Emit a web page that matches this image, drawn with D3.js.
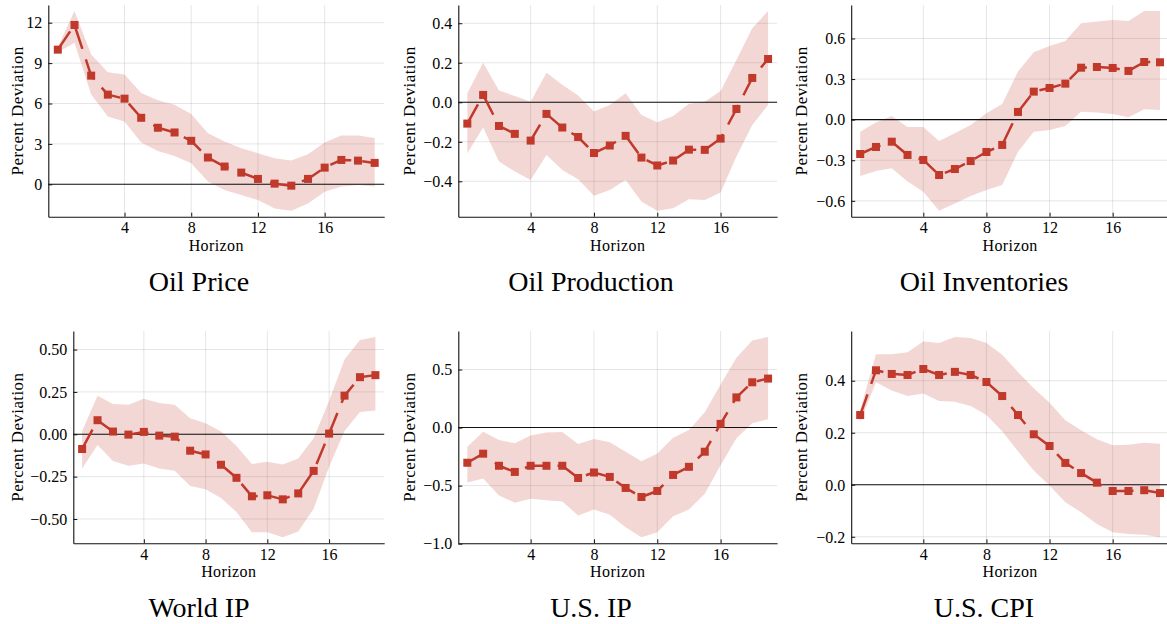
<!DOCTYPE html>
<html>
<head>
<meta charset="utf-8">
<script src="https://cdn.jsdelivr.net/npm/d3@7"></script>
<style>
  body { margin: 0; background: #fff; }
  svg { display: block; }
  text { font-family: "Liberation Serif", "Times New Roman", serif; fill: #000; }
</style>
</head>
<body>
<svg id="chart" width="1167" height="624"></svg>
<script>
// Impulse horizons (quarters after the shock)
const horizon = [0, 1, 2, 3, 4, 5, 6, 7, 8, 9, 10, 11, 12, 13, 14, 15, 16, 17, 18, 19];
const xTicks = [4, 8, 12, 16];

// Point estimates and confidence bands (percent deviation)
const oilPrice   = [10.0, 11.83, 8.07, 6.66, 6.36, 4.94, 4.20, 3.85, 3.23, 1.99, 1.32, 0.87, 0.40, 0.05, -0.10, 0.40, 1.24, 1.81, 1.76, 1.59];
const oilPriceHi = [10.2, 12.87, 9.64, 8.32, 8.15, 6.78, 6.24, 5.91, 5.22, 3.80, 3.18, 2.68, 2.31, 1.94, 1.76, 2.24, 3.10, 3.63, 3.63, 3.43];
const oilPriceLo = [9.8, 10.51, 6.66, 5.04, 4.67, 3.10, 2.48, 2.11, 1.57, 0.20, -0.42, -0.80, -1.17, -1.79, -1.96, -1.42, -0.55, -0.17, -0.05, -0.17];

const oilProd   = [-0.108, 0.037, -0.120, -0.160, -0.194, -0.059, -0.128, -0.176, -0.257, -0.219, -0.170, -0.280, -0.320, -0.295, -0.240, -0.241, -0.184, -0.034, 0.123, 0.219];
const oilProdHi = [0.046, 0.200, 0.059, 0.032, 0.003, 0.150, 0.088, 0.034, -0.047, -0.014, 0.046, -0.064, -0.101, -0.069, -0.008, 0.003, 0.057, 0.214, 0.375, 0.462];
const oilProdLo = [-0.258, -0.128, -0.300, -0.351, -0.393, -0.267, -0.343, -0.390, -0.473, -0.444, -0.393, -0.503, -0.549, -0.537, -0.491, -0.495, -0.457, -0.275, -0.115, -0.014];

const oilInv   = [-0.254, -0.202, -0.163, -0.261, -0.298, -0.409, -0.365, -0.306, -0.239, -0.187, 0.057, 0.207, 0.234, 0.266, 0.384, 0.389, 0.382, 0.360, 0.426, 0.424];
const oilInvHi = [-0.089, -0.022, 0.027, -0.054, -0.054, -0.158, -0.101, -0.039, 0.047, 0.116, 0.355, 0.498, 0.545, 0.582, 0.712, 0.725, 0.737, 0.729, 0.803, 0.803];
const oilInvLo = [-0.416, -0.379, -0.360, -0.458, -0.532, -0.673, -0.619, -0.564, -0.520, -0.483, -0.237, -0.089, -0.076, -0.047, 0.059, 0.052, 0.042, 0.017, 0.076, 0.071];

const worldIP   = [-0.087, 0.083, 0.016, -0.002, 0.014, -0.008, -0.014, -0.097, -0.119, -0.180, -0.257, -0.366, -0.360, -0.384, -0.349, -0.216, 0.004, 0.228, 0.337, 0.349];
const worldIPHi = [0.020, 0.228, 0.178, 0.174, 0.210, 0.184, 0.174, 0.095, 0.065, 0.016, -0.069, -0.176, -0.162, -0.178, -0.143, -0.024, 0.198, 0.442, 0.556, 0.574];
const worldIPLo = [-0.202, -0.063, -0.158, -0.186, -0.172, -0.202, -0.216, -0.305, -0.325, -0.376, -0.459, -0.578, -0.578, -0.608, -0.574, -0.440, -0.192, 0.020, 0.131, 0.141];

const usIP   = [-0.303, -0.225, -0.329, -0.382, -0.329, -0.329, -0.329, -0.434, -0.387, -0.425, -0.520, -0.598, -0.546, -0.408, -0.338, -0.208, 0.032, 0.260, 0.390, 0.422];
const usIPHi = [-0.165, -0.035, -0.107, -0.136, -0.069, -0.043, -0.038, -0.142, -0.098, -0.127, -0.208, -0.289, -0.223, -0.087, -0.020, 0.133, 0.370, 0.601, 0.751, 0.780];
const usIPLo = [-0.474, -0.439, -0.584, -0.647, -0.613, -0.627, -0.636, -0.757, -0.705, -0.751, -0.858, -0.945, -0.902, -0.763, -0.705, -0.569, -0.324, -0.092, 0.038, 0.072];

const usCPI   = [0.268, 0.440, 0.426, 0.422, 0.445, 0.422, 0.434, 0.422, 0.395, 0.341, 0.268, 0.194, 0.149, 0.084, 0.045, 0.008, -0.024, -0.024, -0.021, -0.032];
const usCPIHi = [0.287, 0.502, 0.502, 0.509, 0.551, 0.545, 0.568, 0.564, 0.545, 0.500, 0.433, 0.371, 0.315, 0.248, 0.210, 0.175, 0.152, 0.154, 0.161, 0.158];
const usCPILo = [0.242, 0.394, 0.362, 0.341, 0.351, 0.322, 0.319, 0.303, 0.268, 0.206, 0.129, 0.055, -0.003, -0.067, -0.106, -0.151, -0.183, -0.189, -0.192, -0.202];

// Y tick values per panel
const oilPriceTicks = [0, 3, 6, 9, 12];
const oilProdTicks  = [-0.4, -0.2, 0.0, 0.2, 0.4];
const oilInvTicks   = [-0.6, -0.3, 0.0, 0.3, 0.6];
const worldIPTicks  = [-0.5, -0.25, 0.0, 0.25, 0.5];
const usIPTicks     = [-1.0, -0.5, 0.0, 0.5];
const usCPITicks    = [-0.2, 0.0, 0.2, 0.4];

const titles = ["Oil Price", "Oil Production", "Oil Inventories", "World IP", "U.S. IP", "U.S. CPI"];

const panels = [
  { title: titles[0], mid: oilPrice, hi: oilPriceHi, lo: oilPriceLo, ticks: oilPriceTicks, fmt: "d",   col: 0, row: 0, left: 48.3 },
  { title: titles[1], mid: oilProd,  hi: oilProdHi,  lo: oilProdLo,  ticks: oilProdTicks,  fmt: ".1f", col: 1, row: 0, left: 458.3 },
  { title: titles[2], mid: oilInv,   hi: oilInvHi,   lo: oilInvLo,   ticks: oilInvTicks,   fmt: ".1f", col: 2, row: 0, left: 851.2 },
  { title: titles[3], mid: worldIP,  hi: worldIPHi,  lo: worldIPLo,  ticks: worldIPTicks,  fmt: ".2f", col: 0, row: 1, left: 73.3 },
  { title: titles[4], mid: usIP,     hi: usIPHi,     lo: usIPLo,     ticks: usIPTicks,     fmt: ".1f", col: 1, row: 1, left: 458.3 },
  { title: titles[5], mid: usCPI,    hi: usCPIHi,    lo: usCPILo,    ticks: usCPITicks,    fmt: ".1f", col: 2, row: 1, left: 851.2 }
];

// Layout of the 3x2 grid
const colRight  = [384.2, 777.1, 1169];
const colLabelX = [22.7, 415, 807.3];
const colTitleX = [199, 591, 984];
const rowTop    = [5, 331];
const rowBottom = [216.7, 543.3];
const rowTitleY = [291, 617];

const red = "#c0392b";
const serif = '"Liberation Serif", "Times New Roman", serif';
const svg = d3.select("#chart");

panels.forEach(p => {
  const x0 = p.left, x1 = colRight[p.col];
  const y0 = rowTop[p.row], y1 = rowBottom[p.row];

  // x padded 3% each side; y padded 3% of the band's extent
  const xs = d3.scaleLinear()
    .domain([horizon[0] - 0.03 * (horizon[19] - horizon[0]), horizon[19] + 0.03 * (horizon[19] - horizon[0])])
    .range([x0, x1]);
  const lo = d3.min(p.lo), hi = d3.max(p.hi), pad = 0.03 * (hi - lo);
  const ys = d3.scaleLinear().domain([lo - pad, hi + pad]).range([y1, y0]);

  const g = svg.append("g");

  // grid
  g.append("g").selectAll("line").data(xTicks).join("line")
    .attr("x1", d => xs(d)).attr("x2", d => xs(d))
    .attr("y1", y0).attr("y2", y1)
    .attr("stroke", "#000").attr("stroke-opacity", 0.1).attr("stroke-width", 1);
  g.append("g").selectAll("line").data(p.ticks).join("line")
    .attr("x1", x0).attr("x2", x1)
    .attr("y1", d => ys(d)).attr("y2", d => ys(d))
    .attr("stroke", "#000").attr("stroke-opacity", 0.1).attr("stroke-width", 1);

  // confidence band
  const rows = horizon.map((h, i) => ({ h, m: p.mid[i], hi: p.hi[i], lo: p.lo[i] }));
  g.append("path").datum(rows)
    .attr("d", d3.area().x(d => xs(d.h)).y0(d => ys(d.lo)).y1(d => ys(d.hi)))
    .attr("fill", red).attr("fill-opacity", 0.2);

  // zero reference line
  g.append("line")
    .attr("x1", x0).attr("x2", x1).attr("y1", ys(0)).attr("y2", ys(0))
    .attr("stroke", "#111").attr("stroke-width", 1.1);

  // axes with inward ticks
  const ax = g.append("g").attr("transform", `translate(0,${y1})`)
    .call(d3.axisBottom(xs).tickValues(xTicks).tickSizeInner(-4).tickSizeOuter(0).tickPadding(6).tickFormat(d3.format("d")));
  const ay = g.append("g").attr("transform", `translate(${x0},0)`)
    .call(d3.axisLeft(ys).tickValues(p.ticks).tickSizeInner(-4).tickSizeOuter(0).tickPadding(6).tickFormat(d3.format(p.fmt)));
  [ax, ay].forEach(a => {
    a.attr("font-family", null).attr("font-size", null);
    a.selectAll("text").style("font-family", serif).style("font-size", "16px").attr("fill", "#000");
    a.selectAll("line").attr("stroke", "#111");
    a.select(".domain").attr("stroke", "#111").attr("stroke-width", 1.1);
  });
  ax.selectAll("text").attr("dy", "0.66em");
  ay.selectAll("text").attr("dy", "0.33em");

  // point estimates
  g.append("path").datum(rows)
    .attr("d", d3.line().x(d => xs(d.h)).y(d => ys(d.m)))
    .attr("fill", "none").attr("stroke", red).attr("stroke-width", 2.5)
    .attr("stroke-dasharray", "22 11").attr("stroke-linejoin", "round");
  g.append("g").selectAll("rect").data(rows).join("rect")
    .attr("x", d => xs(d.h) - 4).attr("y", d => ys(d.m) - 4)
    .attr("width", 8).attr("height", 8).attr("fill", red);

  // axis labels
  g.append("text")
    .attr("x", (x0 + x1) / 2).attr("y", y1 + 34)
    .attr("text-anchor", "middle")
    .style("font-family", serif).style("font-size", "16px").style("letter-spacing", "0.4px")
    .text("Horizon");
  g.append("text")
    .attr("transform", `translate(${colLabelX[p.col]},${(y0 + y1) / 2}) rotate(-90)`)
    .attr("text-anchor", "middle")
    .style("font-family", serif).style("font-size", "17px").style("letter-spacing", "0.4px")
    .text("Percent Deviation");

  // panel caption
  svg.append("text")
    .attr("x", colTitleX[p.col]).attr("y", rowTitleY[p.row])
    .attr("text-anchor", "middle")
    .style("font-family", serif).style("font-size", "28px").attr("fill", "#000")
    .text(p.title);
});
</script>
</body>
</html>
